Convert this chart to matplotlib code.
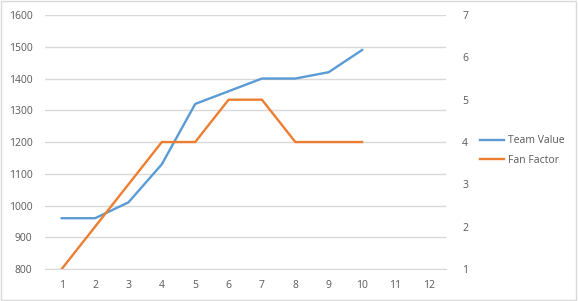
import matplotlib.pyplot as plt
from matplotlib.patches import Rectangle

# data
games = [1, 2, 3, 4, 5, 6, 7, 8, 9, 10]
team_value = [960, 960, 1010, 1130, 1320, 1360, 1400, 1400, 1420, 1490]
fan_factor = [1, 2, 3, 4, 4, 5, 5, 4, 4, 4]
x_ticks = list(range(1, 13))

text_color = '#595959'
plt.rcParams['font.family'] = ['Open Sans', 'DejaVu Sans']
plt.rcParams['font.size'] = 7.5

fig = plt.figure(figsize=(5.78, 3.01), dpi=100)
ax = fig.add_axes([0.0779, 0.1063, 0.6929, 0.8437])
ax2 = ax.twinx()

ax.set_ylim(800, 1600)
ax.set_yticks(range(800, 1601, 100))
ax2.set_ylim(1, 7)
ax2.set_yticks(range(1, 8))
ax.set_xlim(0.5, 12.5)
ax.set_xticks(x_ticks)

ax.grid(axis='y', color='#d9d9d9', linewidth=1)
ax.set_axisbelow(True)
for a in (ax, ax2):
    for s in a.spines.values():
        s.set_visible(False)
    a.tick_params(length=0, colors=text_color, labelsize=7.5)
ax.spines['bottom'].set_visible(True)
ax.spines['bottom'].set_color('#d9d9d9')
ax.tick_params(axis='y', pad=9)
ax.tick_params(axis='x', pad=8)
ax2.tick_params(axis='y', pad=12)

l1, = ax.plot(games, team_value, color='#5b9bd5', linewidth=1.7, label='Team Value')
l2, = ax2.plot(games, fan_factor, color='#ed7d31', linewidth=1.7, label='Fan Factor')

fig.legend(handles=[l1, l2], loc='center left', bbox_to_anchor=(0.815, 0.5),
           frameon=False, handlelength=2.3, handletextpad=0.3, labelspacing=0.8,
           labelcolor=text_color, fontsize=7.5)

fig.patches.append(Rectangle((0.002, 0.003), 0.995, 0.993, transform=fig.transFigure,
                             fill=False, edgecolor='#d9d9d9', linewidth=1))

fig.savefig('out.png', dpi=100)
